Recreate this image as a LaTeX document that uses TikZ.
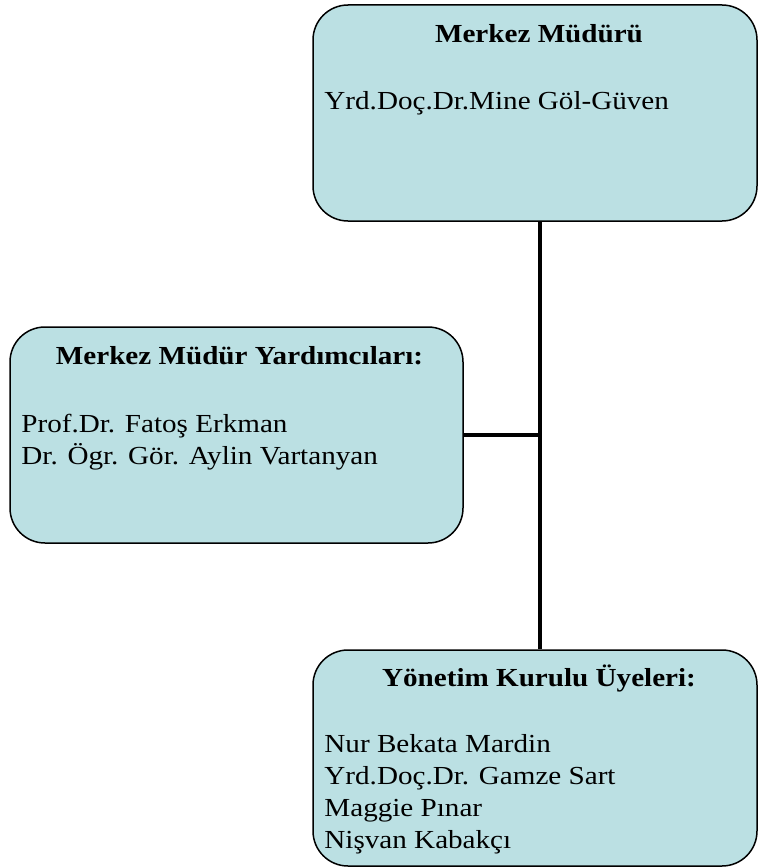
\documentclass[tikz,border=0pt]{standalone}
\usepackage{fontspec}
\setmainfont{Liberation Serif}[FakeStretch=1.12]
\usetikzlibrary{positioning}
\definecolor{boxblue}{HTML}{BBE0E3}

\begin{document}
\begin{tikzpicture}[x=1pt,y=1pt,
  orgbox/.style={draw,line width=1.5pt,fill=boxblue,rounded corners=35pt,
    minimum width=444pt,minimum height=216pt,inner sep=0pt},
  boxtitle/.style={font=\fontsize{26}{32}\selectfont\bfseries,inner sep=0pt,anchor=base},
  boxline/.style={font=\fontsize{26}{32}\selectfont,inner sep=0pt,anchor=base west},
  link/.style={line width=4.5pt}]
\useasboundingbox (0,0) rectangle (758,-867);

\node[orgbox] (mudur) at (535,-113) {};
\node[orgbox,minimum width=453pt] (yard) at (236.5,-435) {};
\node[orgbox] (kurul) at (535,-758) {};

\node[boxtitle] (mudurT) at ([xshift=4pt,yshift=-38pt]mudur.north) {Merkez Müdürü};
\node[boxtitle] (yardT) at ([xshift=3pt,yshift=-38pt]yard.north) {Merkez Müdür Yardımcıları:};
\node[boxtitle] (kurulT) at ([xshift=4pt,yshift=-37pt]kurul.north) {Yönetim Kurulu Üyeleri:};

\node[boxline] (mudurL1) at ([xshift=12pt,yshift=-105pt]mudur.north west) {Yrd.Doç.Dr.Mine Göl-Güven};
\foreach \name [count=\i] in {Prof.Dr. Fatoş Erkman, Dr. Ögr. Gör. Aylin Vartanyan}
  \node[boxline] (yardL\i) at ([xshift=12pt,yshift={-106pt-32pt*(\i-1)}]yard.north west) {\name};
\foreach \name [count=\i] in {Nur Bekata Mardin, Yrd.Doç.Dr. Gamze Sart, Maggie Pınar, Nişvan Kabakçı}
  \node[boxline] (kurulL\i) at ([xshift=12pt,yshift={-103pt-32pt*(\i-1)}]kurul.north west) {\name};

\coordinate (hub) at (540,-435);
\draw[link] (mudur.south -| hub) -- (kurul.north -| hub);
\draw[link] (yard.east) -- (hub);
\end{tikzpicture}
\end{document}
